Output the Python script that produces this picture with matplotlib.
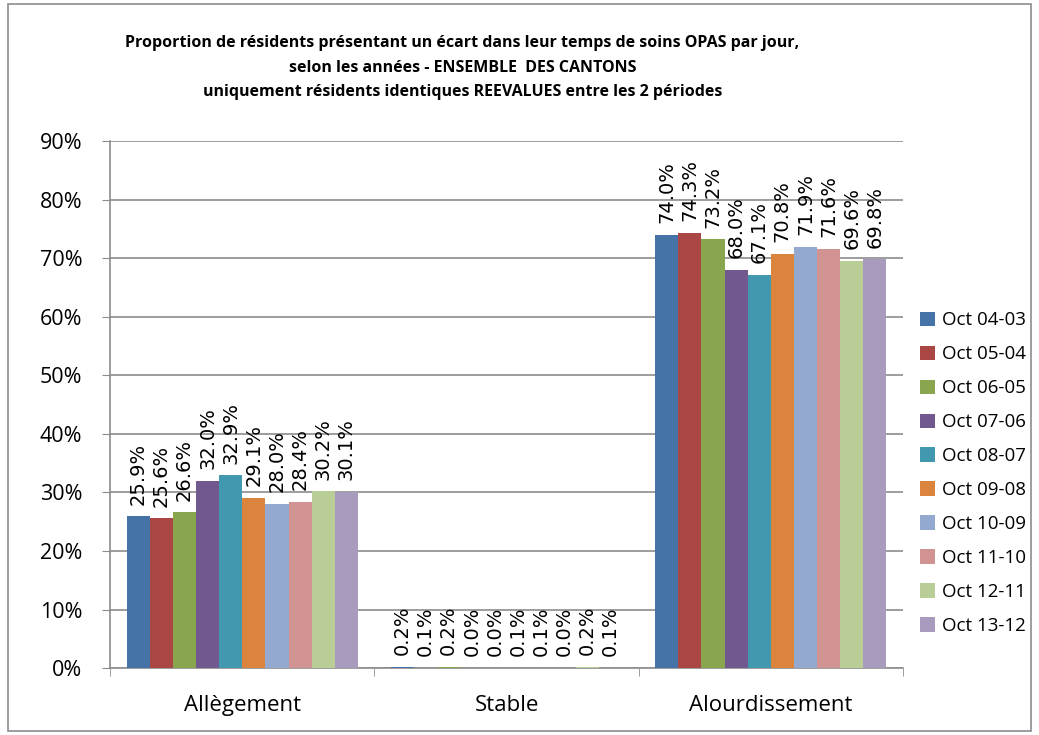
import matplotlib.pyplot as plt
import numpy as np
from matplotlib.patches import Rectangle
from matplotlib.ticker import PercentFormatter

categories = ["Allègement", "Stable", "Alourdissement"]
series = ["Oct 04-03", "Oct 05-04", "Oct 06-05", "Oct 07-06", "Oct 08-07",
          "Oct 09-08", "Oct 10-09", "Oct 11-10", "Oct 12-11", "Oct 13-12"]
values = [
    [25.9, 0.2, 74.0],
    [25.6, 0.1, 74.3],
    [26.6, 0.2, 73.2],
    [32.0, 0.0, 68.0],
    [32.9, 0.0, 67.1],
    [29.1, 0.1, 70.8],
    [28.0, 0.1, 71.9],
    [28.4, 0.0, 71.6],
    [30.2, 0.2, 69.6],
    [30.1, 0.1, 69.8],
]
colors = ["#4572a7", "#aa4643", "#89a54e", "#71588f", "#4198af",
          "#db843d", "#93a9cf", "#d19392", "#b9cd96", "#a99bbd"]

title = ("Proportion de résidents présentant un écart dans leur temps de soins OPAS par jour,\n"
         "selon les années - ENSEMBLE  DES CANTONS\n"
         "uniquement résidents identiques REEVALUES entre les 2 périodes")

fig = plt.figure(figsize=(10.39, 7.35), dpi=100)
ax = fig.add_axes([0.106, 0.091, 0.763, 0.717])

# outer chart border
fig.patches.append(Rectangle((0.008, 0.006), 0.984, 0.989, transform=fig.transFigure,
                             fill=False, edgecolor="#8c8c8c", linewidth=1.2))

x = np.arange(len(categories))
n = len(series)
group_w = 0.875
bw = group_w / n
for i, (name, vals) in enumerate(zip(series, values)):
    pos = x - group_w / 2 + bw * (i + 0.5)
    bars = ax.bar(pos, vals, width=bw, color=colors[i], label=name, zorder=3)
    for b, v in zip(bars, vals):
        ax.text(b.get_x() + b.get_width() / 2, v + 2.0, f"{v:.1f}%",
                rotation=90, ha="center", va="bottom", fontsize=14,
                family="DejaVu Sans", zorder=4)

ax.set_xlim(-0.5, 2.5)
ax.set_ylim(0, 90)
ax.set_yticks(np.arange(0, 91, 10))
ax.yaxis.set_major_formatter(PercentFormatter(decimals=0))
ax.set_xticks(x)
ax.set_xticklabels(categories)
ax.set_xticks([-0.5, 0.5, 1.5, 2.5], minor=True)
ax.tick_params(axis="x", which="major", length=0, pad=19, labelsize=16)
ax.tick_params(axis="x", which="minor", length=6, color="#8c8c8c")
ax.tick_params(axis="y", length=6, color="#8c8c8c", labelsize=15.5, pad=14)
for lab in ax.get_xticklabels() + ax.get_yticklabels():
    lab.set_family("Open Sans")

ax.grid(axis="y", color="#8c8c8c", linewidth=1.2, zorder=0)
for s in ["top", "right"]:
    ax.spines[s].set_visible(False)
for s in ["left", "bottom"]:
    ax.spines[s].set_color("#8c8c8c")
    ax.spines[s].set_linewidth(1.2)

leg = ax.legend(loc="center left", bbox_to_anchor=(1.0, 0.37), frameon=False,
                prop={"family": "Open Sans", "size": 13.5}, handlelength=0.8,
                handleheight=0.8, handletextpad=0.4, labelspacing=0.85,
                borderaxespad=0.5)

fig.text(0.445, 0.908, title, ha="center", va="center", fontsize=11.5,
         fontweight="bold", family="Open Sans", linespacing=1.72)

fig.savefig("out.png", dpi=100)
